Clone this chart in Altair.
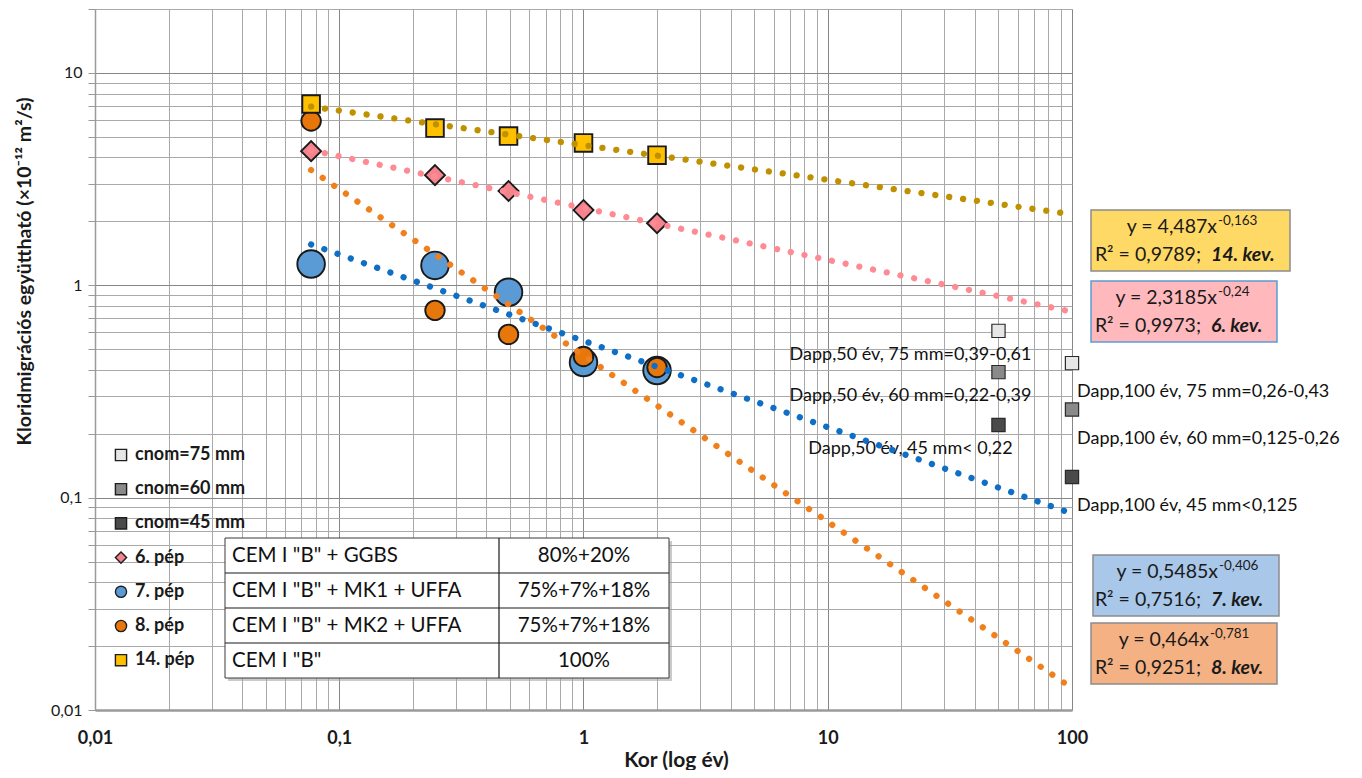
import altair as alt
import pandas as pd

# ---------------- data ----------------
ages = [0.0767, 0.2466, 0.4932, 1.0, 2.0]           # years (28, 90, 180 days, 1 y, 2 y)
d_pep6 = [4.28, 3.30, 2.78, 2.26, 1.96]
d_pep7 = [1.26, 1.24, 0.927, 0.433, 0.397]
d_pep8 = [5.94, 0.762, 0.587, 0.462, 0.410]
d_pep14 = [7.14, 5.50, 5.04, 4.68, 4.10]

pep_labels = ["6. pép", "7. pép", "8. pép", "14. pép"]
cnom_labels = ["cnom=75 mm", "cnom=60 mm", "cnom=45 mm"]

dapp_years = [50, 100]
dapp_50 = [0.61, 0.39, 0.22]
dapp_100 = [0.43, 0.26, 0.125]
dapp_50_text = ["Dapp,50 év, 75 mm=0,39-0,61", "Dapp,50 év, 60 mm=0,22-0,39", "Dapp,50 év, 45 mm< 0,22"]
dapp_100_text = ["Dapp,100 év, 75 mm=0,26-0,43", "Dapp,100 év, 60 mm=0,125-0,26", "Dapp,100 év, 45 mm<0,125"]

eq_coef = ["y = 4,487x", "y = 2,3185x", "y = 0,5485x", "y = 0,464x"]
eq_exp = ["-0,163", "-0,24", "-0,406", "-0,781"]
eq_r2 = ["R² = 0,9789;", "R² = 0,9973;", "R² = 0,7516;", "R² = 0,9251;"]
eq_kev = ["14. kev.", "6. kev.", "7. kev.", "8. kev."]

table_mix = ['CEM I "B" + GGBS', 'CEM I "B" + MK1 + UFFA', 'CEM I "B" + MK2 + UFFA', 'CEM I "B"']
table_pct = ["80%+20%", "75%+7%+18%", "75%+7%+18%", "100%"]

x_decades = [0.01, 0.1, 1, 10, 100]
y_decades = [0.01, 0.1, 1, 10]
x_domain = [0.01, 100]
y_domain = [0.01, 20]

# ---------------- styles ----------------
FONT = "Lato"
TXT = "#1a1a1a"
series_order = cnom_labels + pep_labels
fill_range = ["#E6E6E6", "#8A8A8A", "#4A4A4A", "#F4838D", "#5B9BD5", "#E8770B", "#FFC000"]
shape_range = ["square", "square", "square", "diamond", "circle", "circle", "square"]
size_map = {"cnom": 175, "6. pép": 400, "7. pép": 760, "8. pép": 380, "14. pép": 310}
trend_range = ["#FF8A94", "#0F6FC6", "#F0801E", "#BF9000"]

# ---------------- tables ----------------
rows = []
for j, lab in enumerate(cnom_labels):
    rows.append({"age": dapp_years[0], "D": dapp_50[j], "series": lab})
    rows.append({"age": dapp_years[1], "D": dapp_100[j], "series": lab})
series_vals = {"6. pép": d_pep6, "7. pép": d_pep7, "8. pép": d_pep8, "14. pép": d_pep14}
for lab in pep_labels:
    for a, v in zip(ages, series_vals[lab]):
        rows.append({"age": a, "D": v, "series": lab})
pts = pd.DataFrame(rows)
pep_df = pts[pts["series"].isin(pep_labels)]

grid_x = sorted({round(k * 10.0 ** e, 10) for e in range(-2, 2) for k in range(1, 10)} | {100.0})
grid_y = sorted({round(k * 10.0 ** e, 10) for e in range(-2, 1) for k in range(1, 10)} | {10.0, 20.0})

def label_expr(decs):
    arr = "[" + ",".join(str(d) for d in decs) + "]"
    return f"indexof({arr}, datum.value) >= 0 ? replace(format(datum.value, '~g'), '.', ',') : ''"

def grid_color(decs):
    arr = "[" + ",".join(str(d) for d in decs) + "]"
    return {"condition": {"test": f"indexof({arr}, datum.value) >= 0", "value": "#868686"}, "value": "#a9a9a9"}

xs = alt.Scale(type="log", domain=x_domain, nice=False)
ys = alt.Scale(type="log", domain=y_domain, nice=False)

x_axis = alt.Axis(values=grid_x, labelExpr=label_expr(x_decades), grid=True, gridColor=grid_color(x_decades),
                  ticks=False, domainColor="#9a9a9a", domainWidth=2.5, labelFont=FONT, labelFontSize=18,
                  labelFontWeight="bold", labelColor=TXT, labelPadding=19, labelOverlap=False, labelFlush=False,
                  titleFont=FONT, titleFontSize=21, titleFontWeight="bold", titleColor=TXT,
                  titleX=581, titleY=50, titleBaseline="middle", titleAlign="center")
y_axis = alt.Axis(values=grid_y, labelExpr=label_expr(y_decades), grid=True, gridColor=grid_color(y_decades),
                  ticks=True, tickSize=7, tickColor="#9a9a9a", domainColor="#9a9a9a", domainWidth=1.5,
                  labelFont=FONT, labelFontSize=16, labelColor=TXT, labelPadding=6, labelOverlap=False,
                  labelFlush=False, titleFont=FONT, titleFontSize=19.5, titleFontWeight="bold", titleColor=TXT,
                  titleAngle=270, titleX=-71, titleY=262, titleAlign="center", titleBaseline="middle")

fill_scale = alt.Scale(domain=series_order, range=fill_range)
shape_scale = alt.Scale(domain=series_order, range=shape_range)

# axis carrier: grey cnom squares
base = alt.Chart(pts[pts["series"].isin(cnom_labels)]).mark_point(
    filled=True, stroke="#2a2a2a", strokeWidth=1.2, opacity=1, size=size_map["cnom"]).encode(
    x=alt.X("age:Q", scale=xs, axis=x_axis, title="Kor (log év)"),
    y=alt.Y("D:Q", scale=ys, axis=y_axis, title="Kloridmigrációs együttható (×10⁻¹² m²/s)"),
    fill=alt.Fill("series:N", scale=fill_scale, legend=None),
    shape=alt.Shape("series:N", scale=shape_scale, legend=None),
)

point_layers = []
for lab in ["7. pép", "8. pép", "6. pép", "14. pép"]:
    point_layers.append(
        alt.Chart(pts[pts["series"] == lab]).mark_point(
            filled=True, stroke="#1a1a1a", strokeWidth=1.9, opacity=1, size=size_map[lab]).encode(
            x=alt.X("age:Q", scale=xs, axis=None),
            y=alt.Y("D:Q", scale=ys, axis=None),
            fill=alt.Fill("series:N", scale=fill_scale, legend=None),
            shape=alt.Shape("series:N", scale=shape_scale, legend=None),
        )
    )

trend = alt.Chart(pep_df).transform_regression(
    "age", "D", groupby=["series"], method="pow", extent=[ages[0], 100]
).mark_line(strokeWidth=6.3, strokeCap="round", strokeDash=[0.01, 14]).encode(
    x=alt.X("age:Q", scale=xs, axis=None),
    y=alt.Y("D:Q", scale=ys, axis=None),
    stroke=alt.Stroke("series:N", scale=alt.Scale(domain=pep_labels, range=trend_range), legend=None),
    detail="series:N",
)

df50 = pd.DataFrame({"age": dapp_years[0], "D": dapp_50, "t": dapp_50_text})
df100 = pd.DataFrame({"age": dapp_years[1], "D": dapp_100, "t": dapp_100_text})
lab50 = alt.Chart(df50).mark_text(align="center", baseline="middle", dx=-88, dy=24, font=FONT,
                                  fontSize=18, color="#111111").encode(
    x=alt.X("age:Q", scale=xs, axis=None), y=alt.Y("D:Q", scale=ys, axis=None), text="t:N")
lab100 = alt.Chart(df100).mark_text(align="left", baseline="middle", dx=5, dy=29, font=FONT,
                                    fontSize=18, color="#111111").encode(
    x=alt.X("age:Q", scale=xs, axis=None), y=alt.Y("D:Q", scale=ys, axis=None), text="t:N")

# ---------------- legend (inside plot, left) ----------------
leg_labels = cnom_labels + pep_labels
leg_df = pd.DataFrame({"series": leg_labels, "py": [446 + 34.2 * i for i in range(len(leg_labels))]})
leg_sym = alt.Chart(leg_df).mark_point(filled=True, size=125, stroke="#1f1f1f", strokeWidth=1.4, opacity=1).encode(
    x=alt.value(26), y=alt.Y("py:Q", scale=None, axis=None),
    fill=alt.Fill("series:N", scale=fill_scale, legend=None),
    shape=alt.Shape("series:N", scale=shape_scale, legend=None))
leg_txt = alt.Chart(leg_df).mark_text(align="left", baseline="middle", font=FONT, fontSize=18,
                                      fontWeight="bold", color=TXT).encode(
    x=alt.value(40), y=alt.Y("py:Q", scale=None, axis=None), text="series:N")

# ---------------- composition table ----------------
T_L, T_R, T_T, T_H, T_C = 130, 574, 529, 35, 404
tab_df = pd.DataFrame({"mix": table_mix, "pct": table_pct,
                       "yc": [T_T + (i + 0.5) * T_H for i in range(len(table_mix))],
                       "yt": [T_T + i * T_H for i in range(len(table_mix))]})
one = pd.DataFrame({"a": [0]})
tab_shadow = alt.Chart(one).mark_rect(fill="#9e9e9e", opacity=0.55).encode(
    x=alt.value(T_L + 3), x2=alt.value(T_R + 3), y=alt.value(T_T + 3), y2=alt.value(T_T + 4 * T_H + 3))
tab_bg = alt.Chart(one).mark_rect(fill="white", stroke="#3a3a3a", strokeWidth=1).encode(
    x=alt.value(T_L), x2=alt.value(T_R), y=alt.value(T_T), y2=alt.value(T_T + 4 * T_H))
tab_hr = alt.Chart(tab_df.iloc[1:]).mark_rule(color="#1a1a1a", strokeWidth=1.2).encode(
    y=alt.Y("yt:Q", scale=None, axis=None), x=alt.value(T_L), x2=alt.value(T_R))
tab_vr = alt.Chart(one).mark_rule(color="#1a1a1a", strokeWidth=1.2).encode(
    x=alt.value(T_C), y=alt.value(T_T), y2=alt.value(T_T + 4 * T_H))
tab_t1 = alt.Chart(tab_df).mark_text(align="left", baseline="middle", font=FONT, fontSize=20.5, color="#111111").encode(
    x=alt.value(T_L + 7), y=alt.Y("yc:Q", scale=None, axis=None), text="mix:N")
tab_t2 = alt.Chart(tab_df).mark_text(align="center", baseline="middle", font=FONT, fontSize=20.5, color="#111111").encode(
    x=alt.value((T_C + T_R) / 2), y=alt.Y("yc:Q", scale=None, axis=None), text="pct:N")

# ---------------- equation boxes (right of plot) ----------------
box_x0 = [996, 996, 998, 996]
box_x1 = [1195, 1182, 1184, 1182]
box_y0 = [201, 272, 546, 614]
box_split = [1122, 1122, 1123, 1114]
box_fill = ["#FFD966", "#FFB9BD", "#A9C7E8", "#F4B183"]
box_stroke = ["#8C8C8C", "#5B9BD5", "#8C8C8C", "#8C8C8C"]
eq_df = pd.DataFrame({"x0": box_x0, "x1": box_x1, "y0": box_y0, "y1": [v + 61 for v in box_y0],
                      "l1": [v + 17 for v in box_y0], "l2": [v + 45 for v in box_y0],
                      "sup": [v + 11 for v in box_y0], "split": box_split,
                      "splitp": [v + 1 for v in box_split],
                      "fill": box_fill, "stroke": box_stroke,
                      "coef": eq_coef, "exp": eq_exp, "r2": eq_r2, "kev": eq_kev})
eq_df["r2x"] = 1106
eq_df["kevx"] = 1116
box = alt.Chart(eq_df).mark_rect(strokeWidth=1.5).encode(
    x=alt.X("x0:Q", scale=None, axis=None), x2="x1:Q",
    y=alt.Y("y0:Q", scale=None, axis=None), y2="y1:Q",
    fill=alt.Fill("fill:N", scale=None), stroke=alt.Stroke("stroke:N", scale=None))
eq1 = alt.Chart(eq_df).mark_text(align="right", baseline="middle", font=FONT, fontSize=19.5, color=TXT).encode(
    x=alt.X("split:Q", scale=None, axis=None), y=alt.Y("l1:Q", scale=None, axis=None), text="coef:N")
eqs = alt.Chart(eq_df).mark_text(align="left", baseline="middle", font=FONT, fontSize=13.5, color=TXT).encode(
    x=alt.X("splitp:Q", scale=None, axis=None), y=alt.Y("sup:Q", scale=None, axis=None), text="exp:N")
eq2 = alt.Chart(eq_df).mark_text(align="right", baseline="middle", font=FONT, fontSize=19.5, color=TXT).encode(
    x=alt.X("r2x:Q", scale=None, axis=None), y=alt.Y("l2:Q", scale=None, axis=None), text="r2:N")
eqk = alt.Chart(eq_df).mark_text(align="left", baseline="middle", font=FONT, fontSize=19.5, fontWeight="bold",
                                 fontStyle="italic", color=TXT).encode(
    x=alt.X("kevx:Q", scale=None, axis=None), y=alt.Y("l2:Q", scale=None, axis=None), text="kev:N")

chart = alt.layer(
    base, lab50, lab100, *point_layers, trend, leg_sym, leg_txt,
    tab_shadow, tab_bg, tab_hr, tab_vr, tab_t1, tab_t2,
    box, eq1, eqs, eq2, eqk,
).resolve_scale(
    x="independent", y="independent", fill="independent", stroke="independent",
    shape="independent",
).properties(
    width=977, height=701,
    autosize=alt.AutoSizeParams(type="none"),
    padding={"left": 87, "top": 1, "right": 280, "bottom": 60},
).configure_view(stroke="#9a9a9a", strokeWidth=1).configure(font=FONT)

chart.save("out.html", embed_options={"renderer": "svg", "actions": False})
